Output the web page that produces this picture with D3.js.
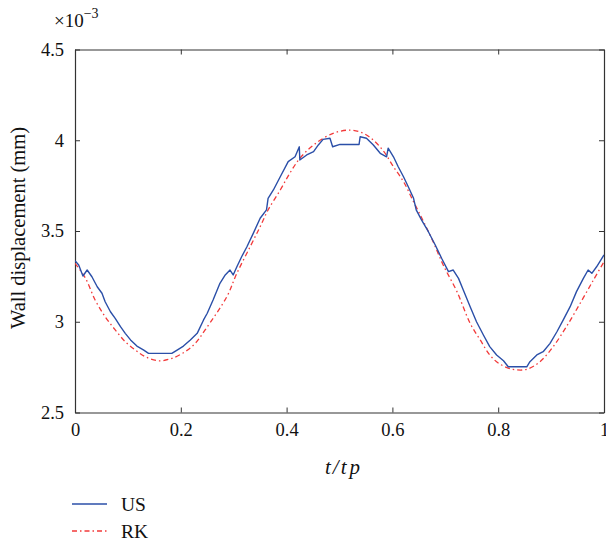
<!DOCTYPE html>
<html>
<head>
<meta charset="utf-8">
<script src="https://cdn.jsdelivr.net/npm/d3@7"></script>
<style>
  html, body { margin: 0; padding: 0; background: #fff; }
  svg text { font-family: 'Liberation Serif', 'Times New Roman', serif; fill: #111; }
</style>
</head>
<body>
<svg id="chart" width="606" height="546"></svg>
<script>
// ---- data (values in units of 10^-3 mm) ----
const xTicks = [0, 0.2, 0.4, 0.6, 0.8, 1];
const yTicks = [2.5, 3, 3.5, 4, 4.5];
const seriesNames = ["US", "RK"];

const usT = [0.000,0.007,0.015,0.023,0.032,0.042,0.051,0.057,0.067,0.076,0.086,0.095,0.105,0.117,0.130,0.139,0.183,0.193,0.205,0.218,0.231,0.243,0.250,0.261,0.274,0.284,0.293,0.299,0.306,0.315,0.325,0.337,0.350,0.362,0.365,0.375,0.388,0.403,0.416,0.424,0.425,0.438,0.451,0.460,0.469,0.482,0.487,0.501,0.537,0.539,0.551,0.564,0.577,0.589,0.592,0.602,0.611,0.621,0.630,0.640,0.645,0.655,0.668,0.681,0.693,0.706,0.715,0.725,0.734,0.747,0.759,0.772,0.784,0.797,0.810,0.819,0.854,0.860,0.873,0.885,0.898,0.911,0.923,0.936,0.948,0.961,0.970,0.977,0.986,1.000];
const usV = [3.336,3.313,3.252,3.285,3.248,3.193,3.157,3.110,3.055,3.019,2.973,2.936,2.900,2.866,2.844,2.826,2.826,2.844,2.866,2.900,2.936,3.010,3.047,3.120,3.212,3.258,3.285,3.258,3.303,3.358,3.413,3.487,3.570,3.616,3.680,3.726,3.799,3.882,3.909,3.964,3.891,3.919,3.937,3.974,4.005,4.011,3.964,3.977,3.977,4.019,4.011,3.974,3.928,3.909,3.956,3.909,3.854,3.799,3.744,3.680,3.616,3.561,3.496,3.423,3.350,3.276,3.285,3.239,3.175,3.083,3.000,2.927,2.863,2.817,2.785,2.752,2.752,2.780,2.817,2.835,2.881,2.945,3.010,3.083,3.166,3.239,3.285,3.267,3.303,3.368];

const rkT = [0.000,0.020,0.038,0.057,0.076,0.095,0.114,0.133,0.158,0.183,0.208,0.227,0.246,0.287,0.306,0.331,0.350,0.365,0.388,0.406,0.425,0.451,0.488,0.520,0.545,0.564,0.584,0.602,0.621,0.640,0.659,0.677,0.696,0.722,0.747,0.766,0.784,0.803,0.828,0.854,0.879,0.904,0.929,0.955,0.980,1.000];
const rkV = [3.322,3.239,3.120,3.028,2.955,2.890,2.844,2.807,2.785,2.798,2.835,2.880,2.955,3.138,3.267,3.413,3.524,3.616,3.726,3.818,3.900,3.974,4.038,4.056,4.038,4.001,3.937,3.854,3.772,3.661,3.551,3.441,3.313,3.166,2.991,2.900,2.817,2.767,2.738,2.738,2.780,2.863,2.973,3.102,3.230,3.330];

// ---- layout ----
const svg = d3.select("#chart");
const FONT = "'Liberation Serif', 'Times New Roman', serif";
const L = 75, R = 604, T = 49.5, B = 412.5;
const x = d3.scaleLinear().domain([0, 1]).range([L, R]);
const y = d3.scaleLinear().domain([2.5, 4.5]).range([B, T]);
const axisColor = "#333";

// axes (box with inward ticks)
const fmt = d => d3.format("")(d);
const gB = svg.append("g").attr("transform", `translate(0,${B})`)
  .call(d3.axisBottom(x).tickValues(xTicks).tickSizeInner(-5).tickSizeOuter(0).tickPadding(10).tickFormat(fmt));
const gT = svg.append("g").attr("transform", `translate(0,${T})`)
  .call(d3.axisTop(x).tickValues(xTicks).tickSizeInner(-5).tickSizeOuter(0).tickFormat(""));
const gL = svg.append("g").attr("transform", `translate(${L},0)`)
  .call(d3.axisLeft(y).tickValues(yTicks).tickSizeInner(-5).tickSizeOuter(0).tickPadding(11).tickFormat(fmt));
const gR = svg.append("g").attr("transform", `translate(${R},0)`)
  .call(d3.axisRight(y).tickValues(yTicks).tickSizeInner(-5).tickSizeOuter(0).tickFormat(""));
[gB, gT, gL, gR].forEach(g => {
  g.attr("font-family", FONT);
  g.selectAll("path.domain").attr("stroke", axisColor).attr("stroke-width", 1.2);
  g.selectAll(".tick line").attr("stroke", axisColor).attr("stroke-width", 1);
  g.selectAll(".tick text").attr("font-size", 18.5).style("font-family", FONT).attr("fill", "#111");
});
gB.selectAll(".tick text").attr("dy", "0.71em");

// exponent label
const ex = svg.append("text").attr("x", 54).attr("y", 27).attr("font-size", 19).style("font-family", FONT);
ex.append("tspan").text("×10");
ex.append("tspan").attr("dy", -9).attr("font-size", 14).text("−3");

// axis titles
const xl = svg.append("text").attr("x", (L + R) / 2 + 3).attr("y", 474).attr("text-anchor", "middle")
  .attr("font-size", 21).attr("font-style", "italic").style("font-family", FONT);
xl.append("tspan").text("t");
xl.append("tspan").attr("dx", 2).text("/");
xl.append("tspan").attr("dx", 2).text("t");
xl.append("tspan").attr("dx", 3).text("p");
svg.append("text").attr("transform", `translate(25,${(T + B) / 2 - 3}) rotate(-90)`)
  .attr("text-anchor", "middle").attr("font-size", 20.5).style("font-family", FONT).text("Wall displacement (mm)");

// lines
svg.append("clipPath").attr("id", "clip").append("rect")
  .attr("x", L).attr("y", T).attr("width", R - L).attr("height", B - T);
const lineUS = d3.line().x((d, i) => x(usT[i])).y(d => y(d)).curve(d3.curveLinear);
const lineRK = d3.line().x((d, i) => x(rkT[i])).y(d => y(d)).curve(d3.curveCatmullRom.alpha(0.5));

const usColor = "#2b4fa8", rkColor = "#f23a3a";
svg.append("path").datum(rkV).attr("d", lineRK).attr("fill", "none")
  .attr("stroke", rkColor).attr("stroke-width", 1.3).attr("stroke-dasharray", "5,3,1.5,3")
  .attr("clip-path", "url(#clip)");
svg.append("path").datum(usV).attr("d", lineUS).attr("fill", "none")
  .attr("stroke", usColor).attr("stroke-width", 1.4).attr("stroke-linejoin", "round")
  .attr("clip-path", "url(#clip)");

// legend
const legend = [
  { name: seriesNames[0], color: usColor, dash: null, y: 504 },
  { name: seriesNames[1], color: rkColor, dash: "5,3,1.5,3", y: 531 }
];
legend.forEach(l => {
  svg.append("line").attr("x1", 72).attr("x2", 107).attr("y1", l.y).attr("y2", l.y)
    .attr("stroke", l.color).attr("stroke-width", 1.3).attr("stroke-dasharray", l.dash);
  svg.append("text").attr("x", 121).attr("y", l.y + 6.5).attr("font-size", 19.5).style("font-family", FONT).text(l.name);
});
</script>
</body>
</html>
